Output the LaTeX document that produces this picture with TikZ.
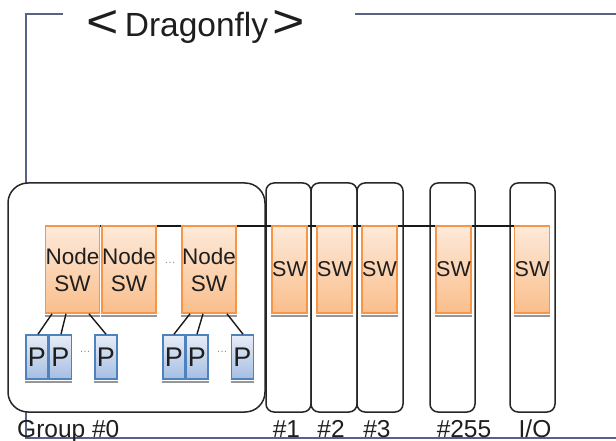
\documentclass[tikz,border=0pt]{standalone}
\usepackage{fontspec}
\setmainfont{Liberation Sans}
\usetikzlibrary{calc}
\definecolor{framec}{RGB}{88,98,132}
\definecolor{txt}{RGB}{30,30,30}
\definecolor{orbd}{RGB}{247,150,70}
\definecolor{ortop}{RGB}{253,234,218}
\definecolor{orbot}{RGB}{250,190,140}
\definecolor{blbd}{RGB}{79,129,189}
\definecolor{bltop}{RGB}{230,237,248}
\definecolor{blbot}{RGB}{166,190,226}
\definecolor{shd}{RGB}{150,150,150}
\begin{document}
\begin{tikzpicture}[x=1pt,y=-1pt,
  frame/.style={draw=framec,line width=1.2pt},
  gbox/.style={draw=black!85,fill=white,line width=1.5pt,inner sep=0pt},
  nsw/.style={draw=orbd,line width=1.6pt,top color=ortop,bottom color=orbot,
    minimum width=46pt,minimum height=87pt,inner sep=0pt,align=center,
    text=txt,font=\fontsize{22.5}{27}\selectfont},
  swbox/.style={draw=orbd,line width=1.6pt,top color=ortop,bottom color=orbot,
    minimum width=35pt,minimum height=87pt,inner sep=0pt,
    text=txt,font=\fontsize{21.5}{25}\selectfont},
  pbox/.style={draw=blbd,line width=1.6pt,top color=bltop,bottom color=blbot,
    minimum width=22pt,minimum height=44pt,inner sep=0pt,
    text=txt,font=\fontsize{27}{30}\selectfont},
  lbl/.style={anchor=base,text=txt,font=\fontsize{24.5}{28}\selectfont,inner sep=0pt},
  brk/.style={text=txt,inner sep=0pt,font=\fontsize{30}{30}\selectfont},
  dots/.style={text=black!45,font=\fontsize{11}{11}\selectfont,inner sep=0pt},
  link/.style={draw=black!90,line width=1.4pt},
  bus/.style={draw=black!90,line width=2.8pt},
  shadowc/.style={fill=shd}
]
\useasboundingbox (0,0) rectangle (616,441);
% outer frame
\coordinate (ft1) at (63,14);
\coordinate (ftl) at (26,14);
\coordinate (fbl) at (26,438);
\coordinate (fbr) at (616,438);
\coordinate (ft2) at (355,14);
\coordinate (ft3) at (616,14);
\draw[frame] (ft1) -- (ftl) -- (fbl) -- (fbr);
\draw[frame] (ft2) -- (ft3);
% title
\node[brk] (lt) at (102.5,24) {\scalebox{1.85}[1.55]{<}};
\node[anchor=base,text=txt,inner sep=0pt,font=\fontsize{33.5}{34}\selectfont] (tt) at (196.5,37) {Dragonfly};
\node[brk] (gt) at (288.5,24) {\scalebox{1.85}[1.55]{>}};
% group boxes
\node[gbox,rounded corners=20pt,minimum width=257pt,minimum height=229pt] (g0) at (136.5,297.5) {};
\node[gbox,rounded corners=8pt,minimum width=45pt,minimum height=229pt] (g1) at (288.5,297.5) {};
\node[gbox,rounded corners=8pt,minimum width=46pt,minimum height=229pt] (g2) at (334,297.5) {};
\node[gbox,rounded corners=8pt,minimum width=46pt,minimum height=229pt] (g3) at (380,297.5) {};
\node[gbox,rounded corners=8pt,minimum width=45pt,minimum height=229pt] (g255) at (452.5,297.5) {};
\node[gbox,rounded corners=8pt,minimum width=45pt,minimum height=229pt] (gio) at (532.5,297.5) {};
% bus anchors
\coordinate (bs) at (55,226);
\coordinate (bm) at (471,226);
\coordinate (be) at (520,226);
\draw[bus] (bs) -- (bm);
\draw[link,line width=2pt] (bm) -- (be);
% switches
\node[nsw] (n1) at (72.5,269.5) {Node\\SW};
\node[nsw] (n2) at (129,269.5) {Node\\SW};
\node[nsw] (n3) at (209,269.5) {Node\\SW};
\node[swbox] (s1) at (289.5,269.5) {SW};
\node[swbox] (s2) at (334.5,269.5) {SW};
\node[swbox] (s3) at (379.5,269.5) {SW};
\node[swbox] (s255) at (453.5,269.5) {SW};
\node[swbox] (sio) at (532,269.5) {SW};
% processors
\node[pbox] (p1) at (37,357) {P};
\node[pbox] (p2) at (60.5,357) {P};
\node[pbox] (p3) at (106,357) {P};
\node[pbox] (p4) at (174,357) {P};
\node[pbox] (p5) at (197,357) {P};
\node[pbox] (p6) at (242.5,357) {P};
% shadows
\foreach \b in {n1,n2,n3,s1,s2,s3,s255,sio,p1,p2,p3,p4,p5,p6}{
  \fill[shadowc] ([yshift=-0.8pt]\b.south west) rectangle ([yshift=-3.5pt]\b.south east);
}
% links
\draw[link] ([xshift=-20.5pt]n1.south) -- ([xshift=1pt]p1.north);
\draw[link] ([xshift=-6.5pt]n1.south) -- ([xshift=0.5pt]p2.north);
\draw[link] ([xshift=16.5pt]n1.south) -- (p3.north);
\draw[link] ([xshift=-19pt]n3.south) -- (p4.north);
\draw[link] ([xshift=-6pt]n3.south) -- (p5.north);
\draw[link] ([xshift=18pt]n3.south) -- ([xshift=0.5pt]p6.north);
% ellipses
\node[dots] (d1) at (170,263) {…};
\node[dots] (d2) at (85,352) {…};
\node[dots] (d3) at (222,352) {…};
% labels
\node[lbl,anchor=base west] (l0) at (17,437) {Group \#0};
\node[lbl] (l1) at (286.5,437) {\#1};
\node[lbl] (l2) at (331,437) {\#2};
\node[lbl] (l3) at (377,437) {\#3};
\node[lbl] (l255) at (464,437) {\#255};
\node[lbl] (lio) at (535,437) {I/O};
\end{tikzpicture}
\end{document}
